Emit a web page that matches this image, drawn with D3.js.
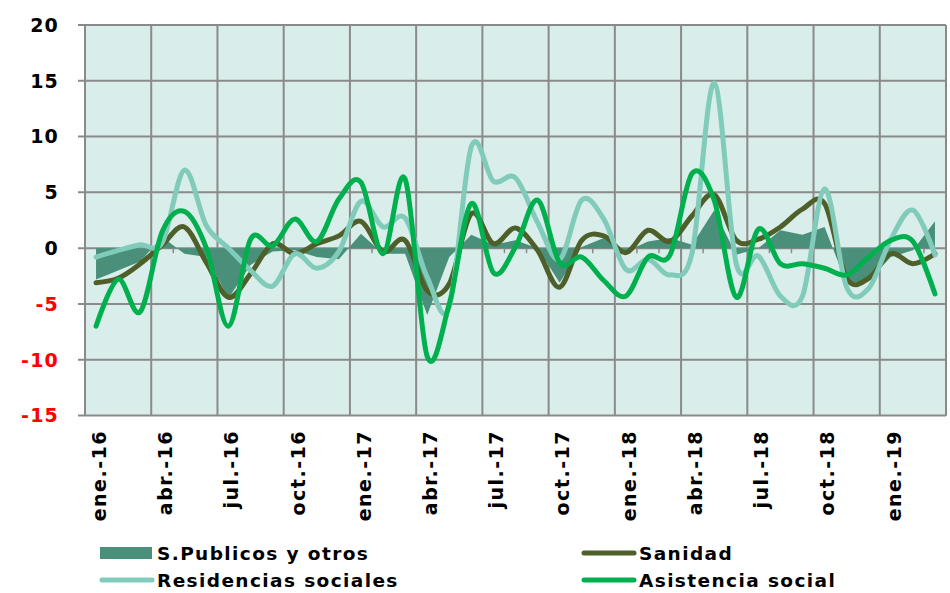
<!DOCTYPE html>
<html>
<head>
<meta charset="utf-8">
<script src="https://cdn.jsdelivr.net/npm/d3@7"></script>
<style>
  body { margin: 0; background: #fff; }
  text { font-family: "DejaVu Sans", Verdana, sans-serif; font-weight: bold; }
</style>
</head>
<body>
<div id="chart"></div>
<script>
const months = ['ene.-16','feb.-16','mar.-16','abr.-16','may.-16','jun.-16','jul.-16','ago.-16','sep.-16','oct.-16','nov.-16','dic.-16',
                'ene.-17','feb.-17','mar.-17','abr.-17','may.-17','jun.-17','jul.-17','ago.-17','sep.-17','oct.-17','nov.-17','dic.-17',
                'ene.-18','feb.-18','mar.-18','abr.-18','may.-18','jun.-18','jul.-18','ago.-18','sep.-18','oct.-18','nov.-18','dic.-18',
                'ene.-19','feb.-19','mar.-19'];

const sPublicos = [-2.8, -2.0, -1.2, 1.0, -0.5, -0.8, -4.5, -1.5, -0.3, -0.2, -0.8, -1.0,
                   1.3, -0.5, -0.5, -6.0, -0.8, 1.2, 0.3, 0.7, 0.0, -3.1, 0.1, 0.9,
                   -0.3, 0.6, 0.9, 0.3, 3.4, -0.6, 0.0, 1.6, 1.2, 1.9, -3.2, -2.9,
                   -0.8, -0.2, 2.4];

const sanidad = [-3.1, -2.7, -1.4, 0.3, 1.9, -1.3, -4.4, -2.3, 0.4, -0.5, 0.4, 1.1,
                 2.4, -0.3, 0.7, -3.8, -3.2, 3.1, 0.4, 1.8, -0.2, -3.5, 0.7, 1.1,
                 -0.4, 1.6, 0.6, 2.9, 4.8, 0.7, 0.8, 1.9, 3.5, 4.0, -2.7, -2.7,
                 -0.5, -1.4, -0.5];

const residencias = [-0.8, -0.2, 0.3, 0.5, 7.0, 2.0, 0.0, -2.0, -3.4, -0.5, -1.8, -0.3,
                     4.2, 1.9, 2.7, -2.6, -5.3, 9.1, 6.0, 6.3, 2.3, -1.0, 4.3, 2.6,
                     -1.9, -1.0, -2.4, -0.4, 14.8, -1.4, -0.7, -4.3, -4.3, 5.3, -3.5, -3.6,
                     0.8, 3.4, -0.6];

const asistencia = [-7.0, -2.8, -5.7, 1.5, 3.3, 0.0, -7.0, 0.8, 0.2, 2.6, 0.6, 4.4,
                    5.9, -0.5, 6.2, -9.7, -5.0, 4.0, -2.2, 0.1, 4.3, -1.3, -0.8, -2.9,
                    -4.3, -0.8, -0.6, 6.7, 4.3, -4.4, 1.7, -1.4, -1.4, -1.8, -2.4, -0.8,
                    0.7, 0.6, -4.1];

const yTicks = [20, 15, 10, 5, 0, -5, -10, -15];

const margin = { top: 25, right: 4, bottom: 177, left: 85 },
      width = 946 - margin.left,
      height = 415.5 - margin.top;

const xScale = d3.scaleBand()
      .domain(months)
      .range([0, width])
      .paddingInner(0)
      .paddingOuter(0);

const yScale = d3.scaleLinear()
      .domain([-15, 20])
      .range([height, 0]);

const cx = d => xScale(d) + xScale.bandwidth() / 2;

const svg = d3.select('#chart').append('svg')
      .attr('width', 950)
      .attr('height', 593);

const wrapper = svg.append('g')
      .attr('transform', 'translate(' + margin.left + ',' + margin.top + ')');

// plot background
wrapper.append('rect')
      .attr('width', width)
      .attr('height', height)
      .style('fill', '#d9eeea');

const gridColor = '#8a8a8a';

// horizontal gridlines + y ticks
wrapper.append('g').selectAll('line')
      .data(yTicks)
    .enter().append('line')
      .attr('x1', -7)
      .attr('x2', width)
      .attr('y1', d => yScale(d))
      .attr('y2', d => yScale(d))
      .style('stroke', gridColor)
      .style('stroke-width', 2);

// vertical gridlines every 3 months
const quarterIdx = d3.range(0, months.length + 1, 3);
wrapper.append('g').selectAll('line')
      .data(quarterIdx)
    .enter().append('line')
      .attr('x1', i => i * xScale.step())
      .attr('x2', i => i * xScale.step())
      .attr('y1', 0)
      .attr('y2', height)
      .style('stroke', gridColor)
      .style('stroke-width', 2);

wrapper.append('line')
      .attr('x1', width).attr('x2', width)
      .attr('y1', 0).attr('y2', height)
      .style('stroke', gridColor)
      .style('stroke-width', 2);

// minor ticks on the zero line
wrapper.append('g').selectAll('line')
      .data(d3.range(0, months.length + 1))
    .enter().append('line')
      .attr('x1', i => i * xScale.step())
      .attr('x2', i => i * xScale.step())
      .attr('y1', yScale(0))
      .attr('y2', yScale(0) + 5)
      .style('stroke', gridColor)
      .style('stroke-width', 1.5);

// y labels
svg.append('g').selectAll('text')
      .data(yTicks)
    .enter().append('text')
      .attr('x', 59)
      .attr('y', d => margin.top + yScale(d))
      .attr('dy', '0.36em')
      .attr('text-anchor', 'end')
      .style('font-size', '19px')
      .style('letter-spacing', '1.2px')
      .style('fill', d => d < 0 ? '#ff0000' : '#000')
      .text(d => d);

// x labels
svg.append('g').selectAll('text')
      .data(months.filter((m, i) => i % 3 === 0))
    .enter().append('text')
      .attr('transform', d => 'translate(' + (margin.left + cx(d) + 3) + ',430) rotate(-90)')
      .attr('dy', '0.36em')
      .attr('text-anchor', 'end')
      .style('font-size', '19px')
      .style('letter-spacing', '1.5px')
      .style('fill', '#000')
      .text(d => d);

// series
const area = d3.area()
      .x((d, i) => cx(months[i]))
      .y0(yScale(0))
      .y1(d => yScale(d));

wrapper.append('path')
      .datum(sPublicos)
      .attr('d', area)
      .style('fill', '#4a8f7a');

const line = d3.line()
      .x((d, i) => cx(months[i]))
      .y(d => yScale(d))
      .curve(d3.curveCatmullRom.alpha(0));

const series = [
  { name: 'Sanidad', values: sanidad, color: '#4e5f29' },
  { name: 'Residencias sociales', values: residencias, color: '#80cbb9' },
  { name: 'Asistencia social', values: asistencia, color: '#00b04f' }
];

wrapper.append('g').selectAll('path')
      .data(series)
    .enter().append('path')
      .attr('d', d => line(d.values))
      .style('fill', 'none')
      .style('stroke', d => d.color)
      .style('stroke-width', 5)
      .style('stroke-linejoin', 'round')
      .style('stroke-linecap', 'round');

// legend
const legend = svg.append('g');
const legendItems = [
  { name: 'S.Publicos y otros', color: '#4a8f7a', type: 'rect', x: 100, y: 553 },
  { name: 'Sanidad', color: '#4e5f29', type: 'line', x: 582, y: 553 },
  { name: 'Residencias sociales', color: '#80cbb9', type: 'line', x: 100, y: 580 },
  { name: 'Asistencia social', color: '#00b04f', type: 'line', x: 582, y: 580 }
];

legendItems.forEach(d => {
  if (d.type === 'rect') {
    legend.append('rect')
      .attr('x', d.x).attr('y', d.y - 6)
      .attr('width', 52).attr('height', 12)
      .style('fill', d.color);
  } else {
    legend.append('line')
      .attr('x1', d.x + 2).attr('x2', d.x + 52)
      .attr('y1', d.y).attr('y2', d.y)
      .style('stroke', d.color)
      .style('stroke-width', 5)
      .style('stroke-linecap', 'round');
  }
  legend.append('text')
      .attr('x', d.x + 57)
      .attr('y', d.y + 7)
      .style('font-size', '18.5px')
      .style('letter-spacing', '1.4px')
      .style('fill', '#000')
      .text(d.name);
});
</script>
</body>
</html>
